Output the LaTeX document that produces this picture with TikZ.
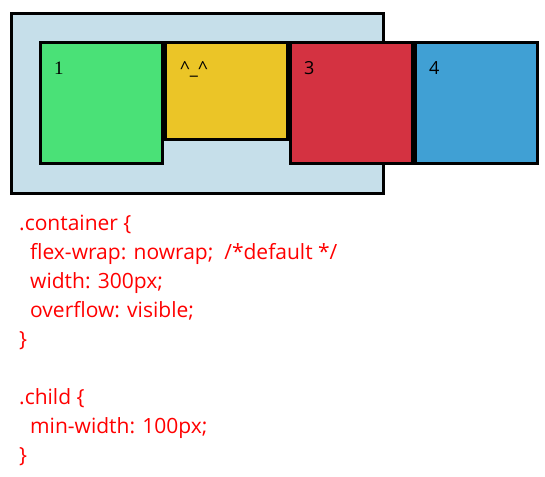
\documentclass[tikz,border=0pt]{standalone}
\usepackage{fontspec}
\setmainfont{Open Sans}
\newfontfamily\numserif{Liberation Serif}
\usetikzlibrary{positioning}

\definecolor{contblue}{HTML}{C6DFEA}
\definecolor{childgreen}{HTML}{4AE177}
\definecolor{childyellow}{HTML}{EBC527}
\definecolor{childred}{HTML}{D43241}
\definecolor{childblue}{HTML}{40A0D4}
\definecolor{cssred}{HTML}{FF0000}

\begin{document}
\begin{tikzpicture}[
                x=1pt, y=-1pt,
                flexbox/.style={draw, line width=3pt, fill=contblue, inner sep=0pt,
                  minimum width=372pt, minimum height=180pt, anchor=north west},
                flexchild/.style={draw, line width=3pt, inner sep=0pt,
                  minimum width=122pt, minimum height=121pt},
                boxlabel/.style={inner sep=0pt, anchor=base west, font=\fontsize{18}{20}\selectfont},
                css/.style={inner sep=0pt, anchor=base west, text=cssred,
                  font=\fontsize{21}{29}\selectfont}
                ]
                \useasboundingbox (0,0) rectangle (545,476);
                % Container
                \node[flexbox] (box) at (10,12) {};
                % Children
                \node[flexchild, fill=childgreen, anchor=north west] (one) at (39,41) {};
                \node[flexchild, fill=childyellow, minimum height=97pt,
                  right=0pt of one.north east, anchor=north west] (two) {};
                \node[flexchild, fill=childred,
                  right=0pt of two.north east, anchor=north west] (three) {};
                \node[flexchild, fill=childblue,
                  right=0pt of three.north east, anchor=north west] (four) {};
                % Labels
                \node[boxlabel, font=\fontsize{19}{20}\numserif]
                  (onetext) at ([xshift=15pt, yshift=-34pt]one.north west) {1};
                \node[boxlabel] (twotext) at ([xshift=16pt, yshift=-34pt]two.north west)
                  {\textasciicircum\_\textasciicircum};
                \node[boxlabel] (threetext) at ([xshift=15pt, yshift=-34pt]three.north west) {3};
                \node[boxlabel] (fourtext) at ([xshift=15pt, yshift=-34pt]four.north west) {4};
                % CSS
                \node[css] (csscont) at (19,230) {.container \{};
                \node[css] (cssflexwrap) at (30,259) {flex-wrap: nowrap;\ \ /*default */};
                \node[css] (csswidth) at (30,288) {width: 300px;};
                \node[css] (cssoverflow) at (30,317) {overflow: visible;};
                \node[css] (csscontend) at (19,346) {\}};
                \node[css] (csschild) at (19,404) {.child \{};
                \node[css] (cssminwidth) at (30,433) {min-width: 100px;};
                \node[css] (csschildend) at (19,462) {\}};
              \end{tikzpicture}
\end{document}
